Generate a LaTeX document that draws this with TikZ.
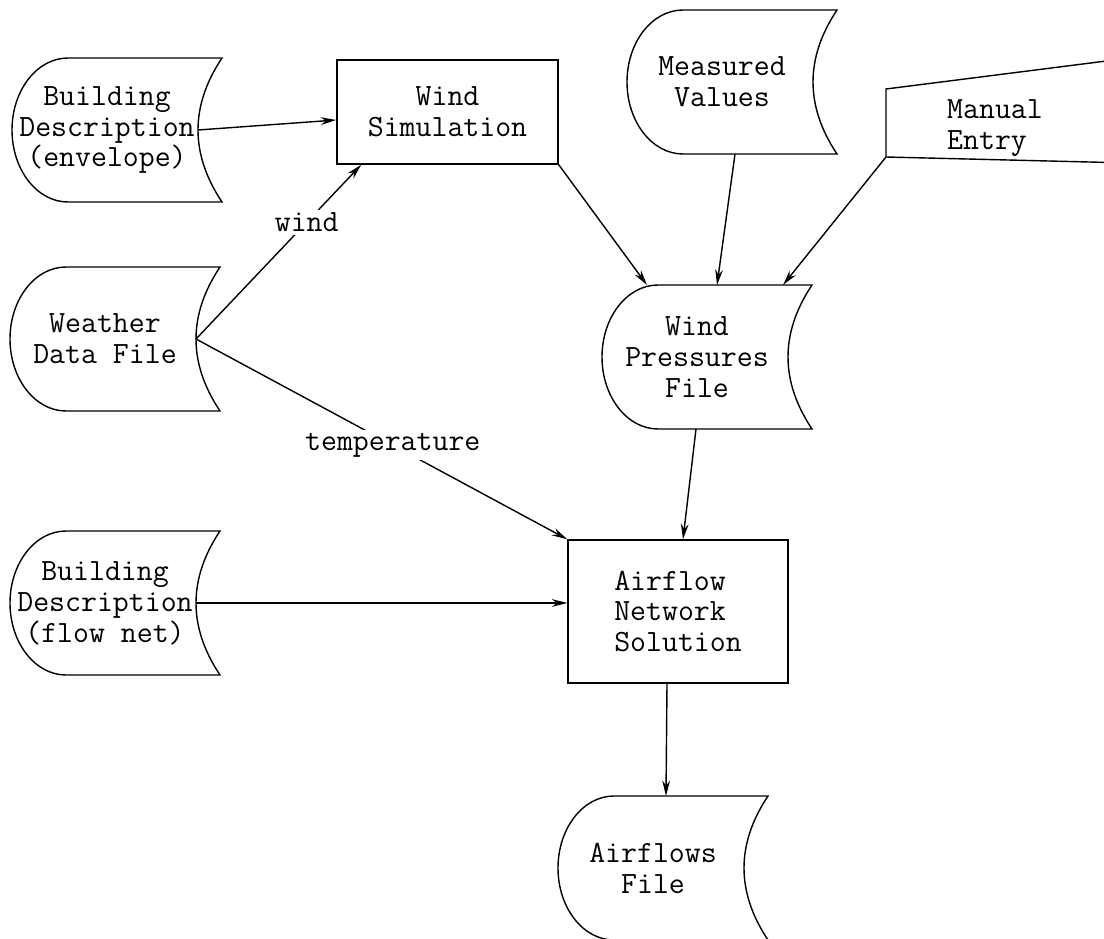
\documentclass[tikz,border=0pt]{standalone}
\usepackage{fontspec}
\usepackage{tikz}
\usetikzlibrary{arrows.meta, positioning, calc}

\tikzset{
  txt/.style={font=\ttfamily\fontsize{22}{22}\selectfont, align=center, inner sep=0pt},
  outline/.style={line width=1pt},
  procbox/.style={txt, draw, line width=1pt},
  lbl/.style={txt, fill=white, inner sep=2pt}
}

% outline of a stored-data symbol around node #1
\newcommand{\filestore}[1]{%
  \draw[outline] ($(#1.center)+(115,72)$) -- ($(#1.center)+(-39,72)$)
    arc[start angle=90, end angle=270, x radius=56, y radius=72]
    -- ($(#1.center)+(115,-72)$)
    .. controls ($(#1.center)+(83,-24)$) and ($(#1.center)+(83,24)$) .. cycle;
  \coordinate (#1-in) at ($(#1.center)+(91,0)$);
  \coordinate (#1-n) at ($(#1.center)+(0,72)$);
  \coordinate (#1-s) at ($(#1.center)+(0,-72)$);
}

\begin{document}
\begin{tikzpicture}[x=0.025cm, y=0.025cm, >={Stealth[length=11pt,width=5.5pt]}]
  \useasboundingbox (0,0) rectangle (1104,-939);

  % Nodes
  \node[txt] (benv) at (107,-130) {Building\\Description\\(envelope)};
  \node[txt] (wdata) at (105,-339) {Weather\\Data File};
  \node[txt] (bflow) at (105,-603) {Building\\Description\\(flow net)};
  \node[txt] (meas) at (722,-82) {Measured\\Values};
  \node[txt] (wpf) at (697,-357) {Wind\\Pressures\\File};
  \node[txt] (aflw) at (653,-868) {Airflows\\File};
  \node[procbox, minimum width=5.525cm, minimum height=2.6cm] (wsim) at (447.5,-112) {Wind\\Simulation};
  \node[procbox, minimum width=5.5cm, minimum height=3.575cm, align=left] (afns) at (678,-611.5) {Airflow\\Network\\Solution};
  \node[txt, align=left] (manl) at (995,-128) {Manual\\Entry};

  % Outlines
  \filestore{benv}
  \filestore{wdata}
  \filestore{bflow}
  \filestore{meas}
  \filestore{wpf}
  \filestore{aflw}
  \draw[outline] (886,-89) -- (1130,-58) -- (1130,-163) -- (886,-157) -- cycle;
  \coordinate (manl-sw) at (886,-157);

  % Arrows
  \draw[->, outline] (benv-in) -- ($(wsim.west)+(0,-8)$);
  \draw[->, outline] (wdata-in) -- node[lbl, pos=0.67] {wind} ($(wsim.south west)+(25,0)$);
  \draw[->, outline] (wdata-in) -- node[lbl, pos=0.53] {temperature} (afns.north west);
  \draw[->, outline] (bflow-in) -- (bflow-in -| afns.west);
  \draw[->, outline] (wsim.south east) -- ($(wpf-n)+(-50,0)$);
  \draw[->, outline] ($(meas-s)+(13,0)$) -- ($(wpf-n)+(20,0)$);
  \draw[->, outline] (manl-sw) -- ($(wpf-n)+(86,0)$);
  \draw[->, outline] ($(wpf-s)+(-1,0)$) -- ($(afns.north)+(5,0)$);
  \draw[->, outline] ($(afns.south)+(-11,0)$) -- ($(aflw-n)+(13,0)$);
\end{tikzpicture}
\end{document}
